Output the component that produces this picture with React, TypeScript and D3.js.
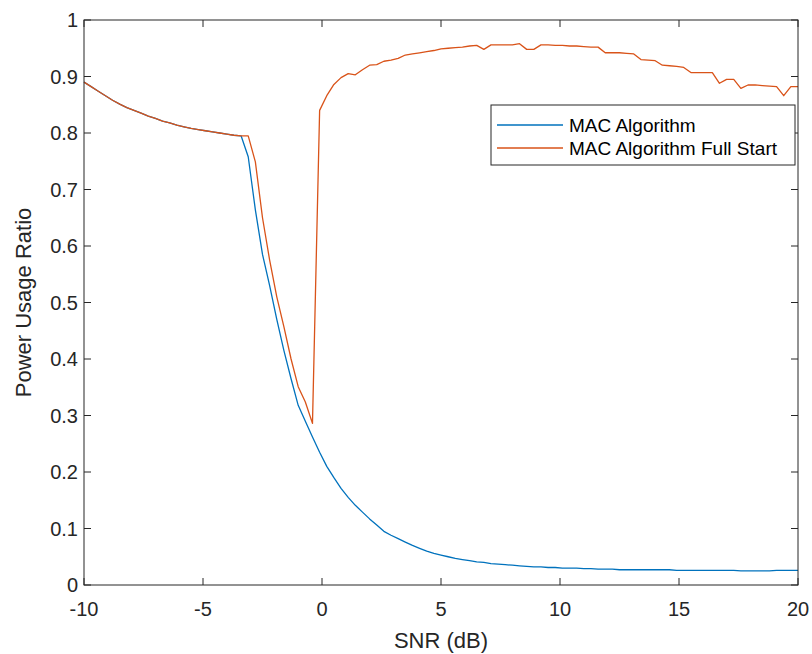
import React from "react";
import * as d3 from "d3";

const snr = [
  -10, -9.7, -9.4, -9.1, -8.8, -8.5, -8.2, -7.9, -7.6, -7.3, -7, -6.7, -6.4, -6.1, -5.8, -5.5, -5.2, -4.9, -4.6, -4.3,
  -4, -3.7, -3.4, -3.1, -2.8, -2.5, -2.2, -1.9, -1.6, -1.3, -1, -0.7, -0.4, -0.1, 0.2, 0.5, 0.8, 1.1, 1.4, 1.7,
  2, 2.3, 2.6, 2.9, 3.2, 3.5, 3.8, 4.1, 4.4, 4.7, 5, 5.3, 5.6, 5.9, 6.2, 6.5, 6.8, 7.1, 7.4, 7.7,
  8, 8.3, 8.6, 8.9, 9.2, 9.5, 9.8, 10.1, 10.4, 10.7, 11, 11.3, 11.6, 11.9, 12.2, 12.5, 12.8, 13.1, 13.4, 13.7,
  14, 14.3, 14.6, 14.9, 15.2, 15.5, 15.8, 16.1, 16.4, 16.7, 17, 17.3, 17.6, 17.9, 18.2, 18.5, 18.8, 19.1, 19.4, 19.7, 20,
];

const macAlgorithm = [
  0.89, 0.882, 0.874, 0.866, 0.858, 0.851, 0.845, 0.84, 0.835, 0.83, 0.826, 0.821, 0.818, 0.814, 0.811, 0.808, 0.806, 0.804, 0.802, 0.8,
  0.798, 0.796, 0.795, 0.758, 0.664, 0.585, 0.53, 0.47, 0.415, 0.365, 0.318, 0.29, 0.262, 0.235, 0.21, 0.19, 0.171, 0.155, 0.141, 0.129,
  0.117, 0.106, 0.095, 0.088, 0.082, 0.076, 0.07, 0.065, 0.06, 0.056, 0.053, 0.05, 0.047, 0.045, 0.043, 0.041, 0.04, 0.038, 0.037, 0.036,
  0.035, 0.034, 0.033, 0.032, 0.032, 0.031, 0.031, 0.03, 0.03, 0.03, 0.029, 0.029, 0.028, 0.028, 0.028, 0.027, 0.027, 0.027, 0.027, 0.027,
  0.027, 0.027, 0.027, 0.026, 0.026, 0.026, 0.026, 0.026, 0.026, 0.026, 0.026, 0.026, 0.025, 0.025, 0.025, 0.025, 0.025, 0.026, 0.026, 0.026, 0.026,
];

const macFullStart = [
  0.89, 0.882, 0.874, 0.866, 0.858, 0.851, 0.845, 0.84, 0.835, 0.83, 0.826, 0.821, 0.818, 0.814, 0.811, 0.808, 0.806, 0.804, 0.802, 0.8,
  0.798, 0.796, 0.795, 0.795, 0.749, 0.65, 0.575, 0.51, 0.457, 0.4, 0.351, 0.324, 0.286, 0.84, 0.866, 0.886, 0.898, 0.905, 0.903, 0.912,
  0.92, 0.921, 0.927, 0.929, 0.932, 0.938, 0.94, 0.942, 0.944, 0.946, 0.949, 0.95, 0.951, 0.952, 0.954, 0.955, 0.948, 0.956, 0.956, 0.956,
  0.956, 0.958, 0.948, 0.948, 0.956, 0.956, 0.955, 0.955, 0.954, 0.954, 0.953, 0.952, 0.952, 0.942, 0.942, 0.942, 0.941, 0.94, 0.93, 0.929,
  0.928, 0.92, 0.919, 0.918, 0.916, 0.907, 0.907, 0.907, 0.907, 0.888, 0.895, 0.895, 0.879, 0.885, 0.885, 0.884, 0.883, 0.882, 0.866, 0.882, 0.882,
];

const xTicks = [-10, -5, 0, 5, 10, 15, 20];
const yTicks = [0, 0.1, 0.2, 0.3, 0.4, 0.5, 0.6, 0.7, 0.8, 0.9, 1];
const seriesNames = ["MAC Algorithm", "MAC Algorithm Full Start"];
const seriesColors = ["#0072BD", "#D95319"];

const W = 812;
const H = 654;
const L = 84, R = 798, T = 20, B = 585;
const FONT = "'Liberation Sans', Arial, Helvetica, sans-serif";
const AX = "#262626";

export default function App() {
  const x = d3.scaleLinear().domain([-10, 20]).range([L, R]);
  const y = d3.scaleLinear().domain([0, 1]).range([B, T]);
  const line = d3
    .line<number>()
    .x((_, i) => x(snr[i]))
    .y((d) => y(d));
  const series = [macAlgorithm, macFullStart];
  const tick = 7;

  const lgX = 491, lgY = 105, lgW = 304, lgH = 60;

  return (
    <svg
      width={W}
      height={H}
      style={{ position: "absolute", left: 0, top: 0, background: "#fff" }}
      fontFamily={FONT}
    >
      <rect x={0} y={0} width={W} height={H} fill="#fff" />
      {series.map((s, k) => (
        <path key={k} d={line(s) || ""} fill="none" stroke={seriesColors[k]} strokeWidth={1.3} strokeLinejoin="round" />
      ))}
      <rect x={L} y={T} width={R - L} height={B - T} fill="none" stroke={AX} strokeWidth={1} />
      {xTicks.map((t) => (
        <g key={"x" + t}>
          <line x1={x(t)} x2={x(t)} y1={B} y2={B - tick} stroke={AX} />
          <line x1={x(t)} x2={x(t)} y1={T} y2={T + tick} stroke={AX} />
          <text x={x(t)} y={B + 31} textAnchor="middle" fontSize={20} fill={AX}>
            {t}
          </text>
        </g>
      ))}
      {yTicks.map((t) => (
        <g key={"y" + t}>
          <line x1={L} x2={L + tick} y1={y(t)} y2={y(t)} stroke={AX} />
          <line x1={R} x2={R - tick} y1={y(t)} y2={y(t)} stroke={AX} />
          <text x={L - 6} y={y(t) + 7} textAnchor="end" fontSize={20} fill={AX}>
            {d3.format("~g")(t)}
          </text>
        </g>
      ))}
      <text x={(L + R) / 2} y={648} textAnchor="middle" fontSize={22} fill={AX}>
        SNR (dB)
      </text>
      <text
        transform={`translate(31, ${(T + B) / 2}) rotate(-90)`}
        textAnchor="middle"
        fontSize={22}
        fill={AX}
      >
        Power Usage Ratio
      </text>
      <rect x={lgX} y={lgY} width={lgW} height={lgH} fill="#fff" stroke={AX} strokeWidth={1} />
      {seriesNames.map((n, k) => (
        <g key={n}>
          <line x1={lgX + 6} x2={lgX + 72} y1={lgY + 20 + k * 23} y2={lgY + 20 + k * 23} stroke={seriesColors[k]} strokeWidth={1.3} />
          <text x={lgX + 78} y={lgY + 27 + k * 23} fontSize={19} fill="#000">
            {n}
          </text>
        </g>
      ))}
    </svg>
  );
}
